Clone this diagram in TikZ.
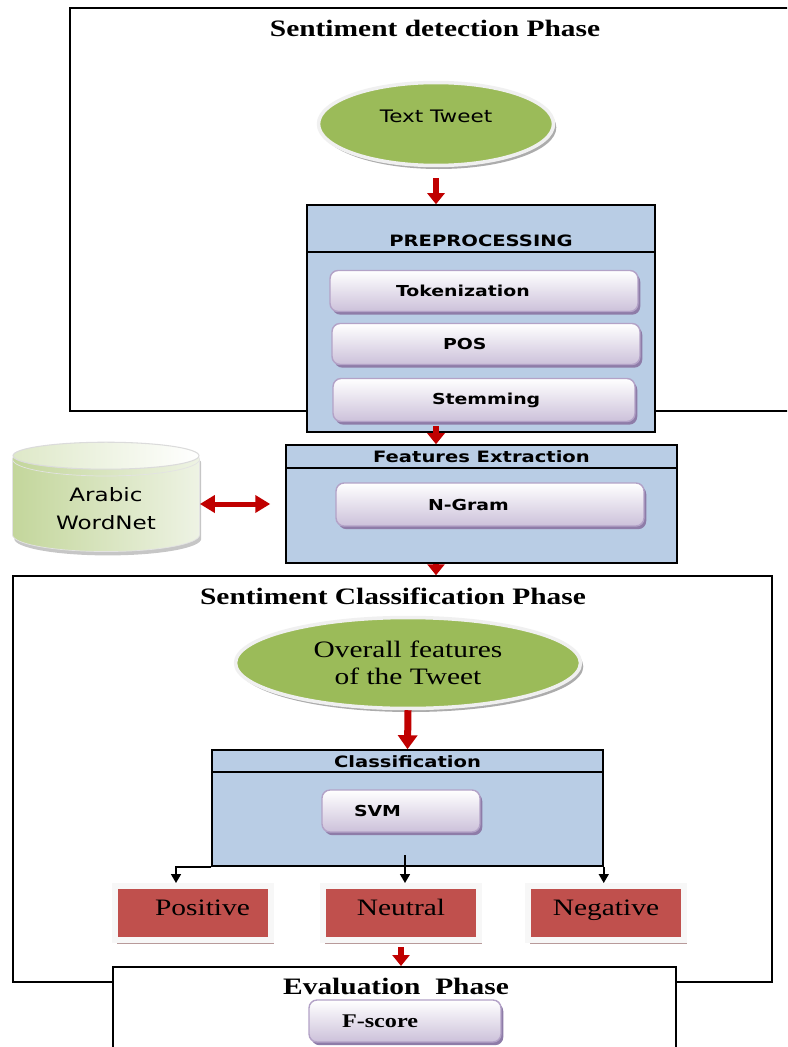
\documentclass[tikz,border=0pt]{standalone}
\usepackage{fontspec}
\setmainfont{Liberation Serif}[FakeStretch=1.25]
\newfontfamily\sansfont{DejaVu Sans}[FakeStretch=1.25]
\usetikzlibrary{positioning,calc,shapes.geometric,shadows,arrows.meta}
\definecolor{panelblue}{HTML}{B9CDE5}
\definecolor{tweetgreen}{HTML}{9BBB59}
\definecolor{outred}{HTML}{C0504D}
\definecolor{outshadow}{HTML}{B89A9A}
\definecolor{arrowred}{HTML}{C00000}
\definecolor{btnlilac}{HTML}{CCC1DA}
\definecolor{btnedge}{HTML}{B3A2C7}
\definecolor{btnshadow}{HTML}{8E7CA8}
\definecolor{dbgreen}{HTML}{C3D69B}
\definecolor{dblight}{HTML}{EEF3E4}
\tikzset{
  phase/.style={rectangle, draw=black, fill=white, line width=0.9pt},
  phasetitle/.style={font=\fontsize{13.4}{16}\selectfont\bfseries},
  panel/.style={rectangle, draw=black, line width=0.9pt, fill=panelblue},
  paneltitle/.style={font=\sansfont\fontsize{8.9}{11}\selectfont\bfseries},
  btn/.style={rectangle, rounded corners=0.16cm, draw=btnedge, line width=0.8pt,
              top color=white, bottom color=btnlilac, minimum height=0.82cm, align=left,
              font=\sansfont\fontsize{8.6}{10}\selectfont\bfseries,
              drop shadow={shadow xshift=1.3pt, shadow yshift=-1.8pt, fill=btnshadow, opacity=1}},
  oval/.style={ellipse, fill=tweetgreen, draw=white!88!gray, line width=0.07cm,
               drop shadow={shadow xshift=1.6pt, shadow yshift=-2pt, fill=gray!65, opacity=1}},
  outcome/.style={rectangle, fill=outred, draw=white!94!gray, line width=0.12cm,
                  minimum width=3.14cm, minimum height=1.08cm,
                  text height=9pt, text depth=5.6pt,
                  font=\fontsize{13.4}{16}\selectfont,
                  drop shadow={shadow xshift=1.6pt, shadow yshift=-2pt, fill=outshadow, opacity=1}},
  redarrow/.style={draw=arrowred, line width=0.12cm, -{Triangle[width=0.34cm,length=0.22cm]}},
  line/.style={draw, line width=0.9pt, -{Triangle[width=0.2cm,length=0.18cm]}}
}

\begin{document}
\begin{tikzpicture}[x=0.02cm, y=-0.02cm]
  \useasboundingbox (0,0) rectangle (787,1047);
  \clip (0,0) rectangle (787,1047);

  % Phase frames first, the panels sit on top of them.
  \node[phase, minimum width=14.6cm, minimum height=8.06cm] (detect) at (435,209.5) {};
  \node[phase, minimum width=15.18cm, minimum height=8.12cm] (classphase) at (392.5,779) {};
  \node[phasetitle] (detecttitle) at (435,28) {Sentiment detection Phase};
  \node[phasetitle] (classtitle) at (393,596) {Sentiment Classification Phase};

  % Tweet input.
  \node[oval, minimum width=4.7cm, minimum height=1.66cm, text depth=9pt,
        font=\sansfont\fontsize{9.8}{12}\selectfont] (tweet) at (436,124) {Text Tweet};

  % Preprocessing panel with its three steps.
  \node[panel, minimum width=6.96cm, minimum height=4.54cm] (prep) at (481,318.5) {};
  \draw[line width=0.9pt] ($(prep.north west)+(0,48)$) -- ($(prep.north east)+(0,48)$);
  \node[paneltitle] (preptitle) at ($(prep.north)+(0,37)$) {PREPROCESSING};
  \node[btn, minimum width=6.16cm, text width=3.52cm] (token) at (484,291) {Tokenization};
  \node[btn, minimum width=6.16cm, text width=1.72cm] (pos) at (486,344) {POS};
  \node[btn, minimum width=6.04cm, minimum height=0.86cm, text width=2.08cm] (stem) at (484,400) {Stemming};

  % Features extraction panel.
  \node[panel, minimum width=7.82cm, minimum height=2.36cm] (feat) at (481.5,504) {};
  \draw[line width=0.9pt] ($(feat.north west)+(0,24)$) -- ($(feat.north east)+(0,24)$);
  \node[paneltitle] (feattitle) at ($(feat.north)+(0,12)$) {Features Extraction};
  \node[btn, minimum width=6.16cm, minimum height=0.86cm, text width=2.48cm] (ngram) at (490,504.5) {N-Gram};

  % Lexical resource.
  \node[cylinder, shape border rotate=90, aspect=0.3, minimum width=3.74cm, minimum height=2.18cm,
        draw=white!78!gray, left color=dbgreen, right color=dblight, align=center,
        font=\sansfont\fontsize{10.5}{16}\selectfont,
        drop shadow={shadow xshift=1pt, shadow yshift=-2.2pt, fill=gray!45, opacity=1}] (wordnet) at (106,508.5) {Arabic\\WordNet};
  \draw[draw=white!72!gray, line width=0.6pt, left color=dbgreen!55, right color=white]
    ($(wordnet.top)+(0,13.5)$) ellipse [x radius=1.86cm, y radius=0.27cm];

  % Classification part.
  \node[oval, minimum width=6.9cm, minimum height=1.82cm, align=center,
        font=\fontsize{13.4}{15.4}\selectfont] (overall) at (408,663) {Overall features\\of the Tweet};
  \node[panel, minimum width=7.82cm, minimum height=2.32cm] (class) at (407.5,808) {};
  \draw[line width=0.9pt] ($(class.north west)+(0,23)$) -- ($(class.north east)+(0,23)$);
  \node[paneltitle] (classpaneltitle) at ($(class.north)+(0,12)$) {Classification};
  \node[btn, minimum width=3.16cm, minimum height=0.84cm, text width=1.88cm] (svm) at (401,811) {SVM};

  \node[outcome] (pos) at (193,913) {\hspace*{0.38cm}Positive};
  \node[outcome] (neu) at (401,913) {Neutral};
  \node[outcome] (neg) at (606,913) {Negative};

  % Evaluation frame runs off the bottom edge.
  \node[phase, minimum width=11.26cm, minimum height=3cm, anchor=north] (eval) at (394.5,966) {};
  \node[phasetitle] (evaltitle) at (396,986) {Evaluation~~Phase};
  \node[btn, minimum width=3.84cm, minimum height=0.84cm, text width=2.52cm,
        font=\fontsize{11}{13}\selectfont\bfseries] (fscore) at (405,1021) {F-score};

  % Red flow arrows.
  \draw[redarrow, shorten <=0.22cm] (tweet.south) -- (prep.north -| tweet.south);
  \draw[redarrow, shorten <=-0.14cm] (prep.south -| tweet.south) -- (feat.north -| tweet.south);
  \draw[redarrow] (feat.south -| tweet.south) -- (classphase.north -| tweet.south);
  \draw[draw=arrowred, line width=0.1cm, {Triangle[width=0.34cm,length=0.3cm]}-{Triangle[width=0.34cm,length=0.3cm]},
        shorten >=0.3cm] (wordnet.east |- feat.west) -- (feat.west);
  \draw[redarrow, line width=0.14cm, -{Triangle[width=0.38cm,length=0.28cm]}] (overall.south) -- (class.north);
  \draw[redarrow, shorten <=0.08cm] (neu.south) -- (eval.north -| neu.south);

  % Black arrows to the three classes.
  \coordinate (split) at (405,855);
  \draw[line] (class.south west) -| ([xshift=-0.34cm]pos.north);
  \draw[line] (split) -- (split |- neu.north);
  \draw[line] (class.south east) -- (class.south east |- neg.north);
\end{tikzpicture}
\end{document}
